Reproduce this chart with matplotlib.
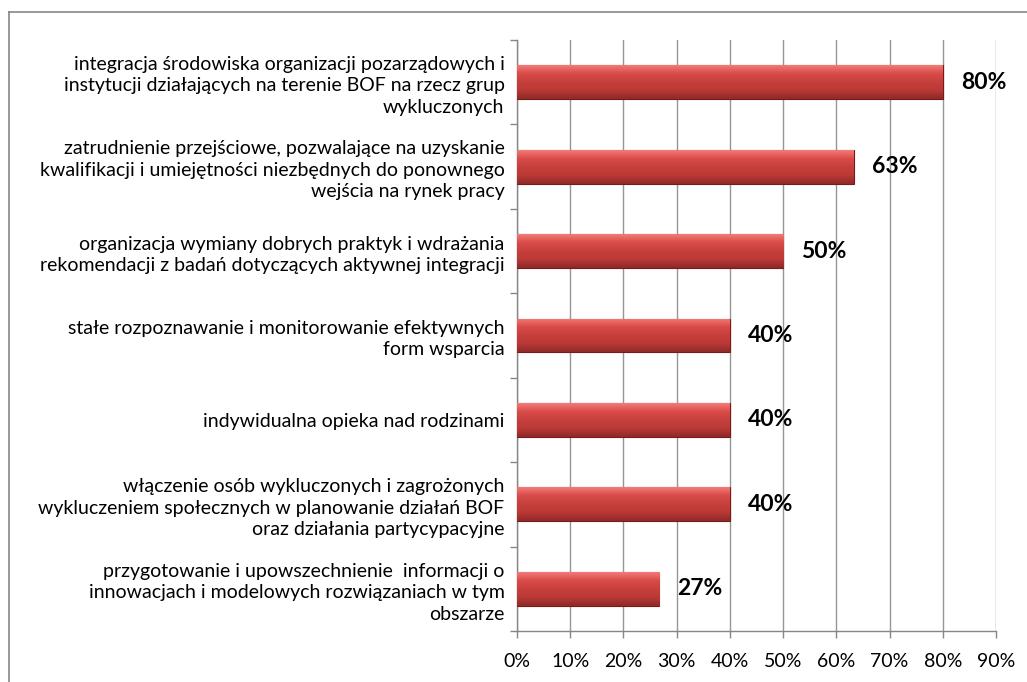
import numpy as np
import matplotlib.pyplot as plt
from matplotlib.colors import LinearSegmentedColormap

plt.rcParams['font.family'] = ['Lato', 'DejaVu Sans']

labels = [
    "integracja środowiska organizacji pozarządowych i\ninstytucji działających na terenie BOF na rzecz grup\nwykluczonych",
    "zatrudnienie przejściowe, pozwalające na uzyskanie\nkwalifikacji i umiejętności niezbędnych do ponownego\nwejścia na rynek pracy",
    "organizacja wymiany dobrych praktyk i wdrażania\nrekomendacji z badań dotyczących aktywnej integracji",
    "stałe rozpoznawanie i monitorowanie efektywnych\nform wsparcia",
    "indywidualna opieka nad rodzinami",
    "włączenie osób wykluczonych i zagrożonych\nwykluczeniem społecznych w planowanie działań BOF\noraz działania partycypacyjne",
    "przygotowanie i upowszechnienie  informacji o\ninnowacjach i modelowych rozwiązaniach w tym\nobszarze",
]
values = [80.0, 63.3, 50.0, 40.0, 40.0, 40.0, 26.7]
value_labels = ["80%", "63%", "50%", "40%", "40%", "40%", "27%"]
xticks = [0, 10, 20, 30, 40, 50, 60, 70, 80, 90]

fig = plt.figure(figsize=(10.27, 6.82), dpi=100)
ax = fig.add_axes([517 / 1027, 1 - 631 / 682, 479 / 1027, 591 / 682])

n = len(labels)
ypos = np.arange(n)
grad = LinearSegmentedColormap.from_list(
    "redbar", ["#f27a77", "#d94b48", "#c6403d", "#bb3936", "#8e2a28"])

bars = ax.barh(ypos, values, height=0.4, color="#c43c3a",
               edgecolor="#7a1a18", linewidth=0.8, zorder=3)
img = np.linspace(0, 1, 64).reshape(-1, 1)
for b in bars:
    x0, y0 = b.get_x(), b.get_y()
    w, h = b.get_width(), b.get_height()
    im = ax.imshow(img, cmap=grad, aspect="auto", zorder=3,
                   extent=[x0, x0 + w, y0 + h, y0], interpolation="bilinear")
    im.set_clip_path(b)

for y, v, t in zip(ypos, values, value_labels):
    ax.text(v + 3.4, y, t, va="center", ha="left", fontsize=16.5,
            fontweight="bold", color="black")

ax.set_xlim(0, 90)
ax.set_ylim(n - 0.5, -0.5)
ax.set_xticks(xticks)
ax.set_xticklabels([f"{t}%" for t in xticks], fontsize=14)
ax.set_yticks(np.arange(n + 1) - 0.5)
ax.set_yticklabels([])
ax.set_yticks(ypos, minor=True)
ax.set_yticklabels(labels, minor=True, fontsize=14, linespacing=1.32)
ax.tick_params(axis="y", which="minor", length=0, pad=9)
ax.tick_params(axis="y", which="major", length=5, color="#868686", width=1)
ax.tick_params(axis="x", length=5, color="#868686", width=1, pad=11)
ax.grid(axis="x", color="#969696", linewidth=1, zorder=0)
for s in ["top", "right"]:
    ax.spines[s].set_visible(False)
for s in ["left", "bottom"]:
    ax.spines[s].set_color("#868686")
    ax.spines[s].set_linewidth(1)

# chart border (left and top edges visible)
fig.add_artist(plt.Line2D([9 / 1027, 9 / 1027], [0, 1 - 12 / 682],
                          color="#868686", linewidth=1.2))
fig.add_artist(plt.Line2D([9 / 1027, 1], [1 - 12 / 682, 1 - 12 / 682],
                          color="#868686", linewidth=1.2))

fig.savefig("out.png", dpi=100)
